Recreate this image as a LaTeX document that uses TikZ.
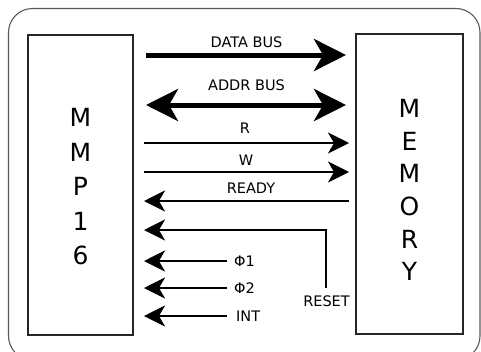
\documentclass[tikz,border=0pt]{standalone}
\usepackage{fontspec}
\setmainfont{DejaVu Sans}
\usetikzlibrary{arrows.meta}
\begin{document}
\begin{tikzpicture}[x=1pt,y=-1pt,
  box/.style={draw=black!85, line width=2pt, minimum height=300pt, inner sep=0pt},
  big/.style={font=\fontsize{25}{34.5}\selectfont, align=center, inner sep=0pt},
  lbl/.style={font=\fontsize{14.5}{16}\selectfont, inner sep=0pt, anchor=base},
  plbl/.style={font=\fontsize{14.5}{16}\selectfont, inner sep=0pt, anchor=base west},
  bus/.style={line width=5pt, black},
  bustip/.style={-{Stealth[length=32pt,width=32pt,inset=9pt]}},
  bustips/.style={{Stealth[length=32pt,width=32pt,inset=9pt]}-{Stealth[length=32pt,width=32pt,inset=9pt]}},
  sig/.style={line width=2.4pt, black, -{Stealth[length=21pt,width=21pt,inset=6pt]}},
]
\useasboundingbox (0,0) rectangle (481,351);
\draw[black!65, line width=1.1pt, rounded corners=24pt] (8.5,8.5) rectangle (480,360);

\node[box, minimum width=105pt] (mmp) at (80.5,185) {};
\node[box, minimum width=107pt] (mem) at (409.5,184) {};
\node[big] (mmptxt) at ([yshift=-2pt]mmp.center) {M\\M\\P\\1\\6};
\node[big, font=\fontsize{25}{32.7}\selectfont] (memtxt) at ([yshift=-6pt]mem.center) {M\\E\\M\\O\\R\\Y};

% buses
\draw[bus, bustip, shorten <=12pt, shorten >=9pt] (mmp.east |- 0,55) -- (mem.west |- 0,55);
\node[lbl] (dlbl) at (246.5,47) {DATA BUS};
\draw[bus, bustips, shorten <=12pt, shorten >=9pt] (mmp.east |- 0,105) -- (mem.west |- 0,105);
\node[lbl] (albl) at (246.5,90.7) {ADDR BUS};

% control signals
\draw[sig, shorten <=10pt, shorten >=6pt] (mmp.east |- 0,143) -- (mem.west |- 0,143);
\node[lbl] (rlbl) at (245,133.5) {R};
\draw[sig, shorten <=10pt, shorten >=6pt] (mmp.east |- 0,172) -- (mem.west |- 0,172);
\node[lbl] (wlbl) at (246,165) {W};
\draw[sig, shorten <=6pt, shorten >=10pt] (mem.west |- 0,201) -- (mmp.east |- 0,201);
\node[lbl] (rdylbl) at (251,193) {READY};

% reset
\coordinate (rst) at (326,288);
\draw[sig, shorten >=10pt] (rst) |- (mmp.east |- 0,230);
\node[lbl] (rstlbl) at (326.5,306) {RESET};

% clocks and interrupt
\node[plbl] (p1) at (234,266) {Φ1};
\node[plbl] (p2) at (234,293) {Φ2};
\node[plbl] (int) at (236,321) {INT};
\draw[sig, shorten >=10pt] (227,261) -- (mmp.east |- 0,261);
\draw[sig, shorten >=10pt] (227,288) -- (mmp.east |- 0,288);
\draw[sig, shorten >=10pt] (227,316) -- (mmp.east |- 0,316);
\end{tikzpicture}
\end{document}
